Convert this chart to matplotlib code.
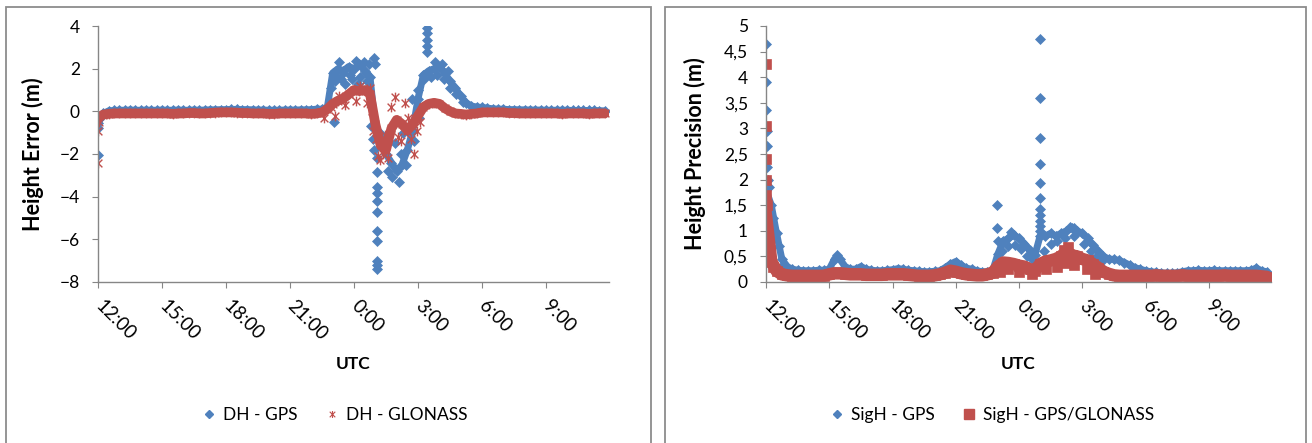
import numpy as np
import matplotlib.pyplot as plt
from matplotlib.path import Path
from matplotlib.patches import Rectangle
from matplotlib.lines import Line2D

plt.rcParams['font.family'] = ['Lato', 'DejaVu Sans']

# time axis: hours after 12:00 UTC, one sample every 15 min
t_base = np.arange(0, 24, 0.25)
tick_hours = [0, 3, 6, 9, 12, 15, 18, 21]
tick_labels = ['12:00', '15:00', '18:00', '21:00', '0:00', '3:00', '6:00', '9:00']

# ---- left chart: height error (m) ----
dh_gps = [
    -0.55, -0.1, 0.02, 0.04, 0.05, 0.05, 0.06, 0.05, 0.05, 0.06, 0.05, 0.05,
    0.06, 0.05, 0.05, 0.06, 0.05, 0.05, 0.06, 0.05, 0.06, 0.07, 0.07, 0.08,
    0.08, 0.09, 0.09, 0.08, 0.08, 0.07, 0.06, 0.06, 0.05, 0.05, 0.05, 0.06,
    0.06, 0.06, 0.07, 0.07, 0.08, 0.1, 0.1, 0.2, 1.8, 2.0, 1.9, 2.1,
    2.0, 2.2, 1.9, 1.6, -0.8, -1.5, -2.0, -2.4, -2.8, -2.5, -1.8, -0.9,
    0.6, 1.7, 1.9, 2.0, 2.1, 1.8, 1.4, 1.1, 0.7, 0.4, 0.25, 0.2,
    0.18, 0.15, 0.12, 0.1, 0.1, 0.08, 0.08, 0.07, 0.07, 0.06, 0.06, 0.06,
    0.05, 0.05, 0.05, 0.05, 0.05, 0.04, 0.04, 0.04, 0.04, 0.04, 0.03, 0.02,
]
dh_gps_extra_t = [
    0, 0.02, 0.05, 10.9, 11.05,
    11.1, 11.3, 11.4, 11.6, 11.8, 12.1, 12.3, 12.45, 12.6, 12.7,
    11.2, 11.5, 11.9, 12.2, 12.55,
    12.95, 12.97, 12.8, 12.9, 12.95,
    13.08, 13.08, 13.08, 13.08, 13.08, 13.08, 13.08, 13.08, 13.08, 13.08, 13.08,
    13.2, 13.4, 13.6, 13.8, 13.9, 14.1, 14.2, 14.3, 14.45, 14.6, 14.7, 14.8, 15.0, 15.05,
    15.4, 15.4, 15.4, 15.4, 15.4,
    15.3, 15.6, 15.9, 16.2, 16.5, 16.8, 17.1, 15.8, 16.1, 16.4,
]
dh_gps_extra_v = [
    -2.05, -0.8, -0.35, 1.1, -0.5,
    1.4, 2.3, 1.5, 1.3, 1.7, 2.35, 1.6, 2.3, 1.4, 2.2,
    1.6, 1.8, 1.5, 1.3, 1.8,
    2.5, 2.2, -0.7, -1.3, -1.8,
    -2.2, -2.85, -3.55, -3.85, -4.2, -4.7, -5.6, -6.1, -7.0, -7.2, -7.4,
    -1.0, -1.3, -2.8, -3.1, -1.5, -3.3, -2.0, -1.0, -2.5, -0.8, 0.6, -1.4, 1.0, -0.3,
    3.9, 3.65, 3.35, 3.05, 2.8,
    1.5, 1.6, 1.7, 1.5, 1.1, 0.8, 0.45, 2.3, 2.2, 1.9,
]

dh_glonass = [
    -0.3, -0.15, -0.12, -0.1, -0.1, -0.1, -0.1, -0.1, -0.1, -0.1, -0.1, -0.1,
    -0.1, -0.1, -0.12, -0.1, -0.1, -0.08, -0.08, -0.1, -0.1, -0.08, -0.06, -0.05,
    -0.05, -0.05, -0.06, -0.08, -0.08, -0.1, -0.1, -0.1, -0.12, -0.12, -0.1, -0.1,
    -0.1, -0.1, -0.1, -0.1, -0.12, -0.1, -0.05, 0.1, 0.35, 0.5, 0.6, 0.8,
    1.0, 0.95, 1.0, 0.8, -0.6, -1.6, -1.8, -0.8, -0.4, -0.6, -0.9, -0.6,
    -0.2, 0.2, 0.35, 0.4, 0.35, 0.15, 0.0, -0.1, -0.12, -0.15, -0.12, -0.1,
    -0.05, -0.05, -0.05, -0.05, -0.05, -0.08, -0.08, -0.1, -0.1, -0.1, -0.1, -0.1,
    -0.1, -0.1, -0.1, -0.12, -0.1, -0.1, -0.1, -0.1, -0.12, -0.1, -0.1, -0.1,
]
dh_glonass_extra_t = [
    0, 0.02, 0.05, 10.6, 10.9, 11.1, 11.3, 11.6, 12.1, 12.3, 12.6, 12.75,
    12.85, 12.9, 13.05, 13.1, 13.2, 13.35, 13.45, 13.6, 13.75, 13.9, 14.05,
    14.2, 14.4, 14.55, 14.65, 14.8, 14.95, 15.1,
]
dh_glonass_extra_v = [
    -2.4, -0.9, -0.5, -0.3, 0.2, -0.2, 0.7, 0.3, 0.5, 1.2, 0.4, 1.1,
    0.0, -0.9, -1.3, -2.1, -2.3, -2.0, -1.1, -2.2, 0.2, 0.65, -1.2,
    -1.4, 0.4, -0.3, -1.3, -2.0, -0.9, -0.5,
]

# ---- right chart: height precision (m) ----
sigh_gps = [
    1.8, 1.5, 0.95, 0.45, 0.3, 0.25, 0.23, 0.22, 0.22, 0.22, 0.23, 0.23,
    0.25, 0.45, 0.45, 0.3, 0.25, 0.25, 0.3, 0.25, 0.23, 0.22, 0.22, 0.23,
    0.24, 0.26, 0.25, 0.23, 0.22, 0.21, 0.2, 0.2, 0.21, 0.22, 0.28, 0.35,
    0.4, 0.33, 0.27, 0.25, 0.22, 0.2, 0.2, 0.22, 0.55, 0.8, 0.85, 0.92,
    0.85, 0.75, 0.62, 0.52, 0.9, 0.9, 0.95, 0.9, 0.95, 1.0, 1.05, 1.0,
    0.95, 0.85, 0.72, 0.6, 0.5, 0.45, 0.44, 0.42, 0.38, 0.33, 0.28, 0.25,
    0.22, 0.2, 0.19, 0.18, 0.17, 0.17, 0.18, 0.2, 0.22, 0.22, 0.23, 0.22,
    0.22, 0.23, 0.22, 0.22, 0.22, 0.22, 0.22, 0.22, 0.23, 0.27, 0.22, 0.2,
]
sigh_gps_extra_t = [
    0, 0, 0.02, 0.03, 0.05, 0.07, 0.1, 0.15, 0.35, 0.6, 0.85, 3.35,
    10.97, 10.97, 10.99,
    13.0, 13.0, 13.0, 13.0, 13.0, 13.0, 13.0, 13.0, 13.0, 13.0, 13.0,
    11.2, 11.5, 11.8, 12.1, 12.4, 12.6, 13.2, 13.5, 13.8, 14.2, 14.6,
    15.1, 15.4, 15.7, 16.0, 11.6, 14.4, 14.6,
]
sigh_gps_extra_v = [
    4.65, 3.9, 3.35, 2.95, 2.65, 2.25, 2.0, 1.85, 1.25, 0.7, 0.35, 0.52,
    1.5, 1.05, 0.8,
    4.75, 3.6, 2.82, 2.3, 1.93, 1.65, 1.42, 1.3, 1.2, 1.1, 1.0,
    0.6, 0.7, 0.72, 0.65, 0.5, 0.45, 0.6, 0.75, 0.8, 0.85, 0.9,
    0.75, 0.6, 0.5, 0.42, 0.98, 1.08, 1.05,
]

sigh_gnss = [
    1.3, 0.4, 0.22, 0.15, 0.13, 0.12, 0.12, 0.12, 0.12, 0.12, 0.12, 0.12,
    0.15, 0.17, 0.17, 0.16, 0.15, 0.15, 0.15, 0.14, 0.14, 0.14, 0.14, 0.15,
    0.15, 0.15, 0.15, 0.14, 0.13, 0.12, 0.12, 0.12, 0.13, 0.15, 0.18, 0.22,
    0.2, 0.17, 0.15, 0.14, 0.13, 0.13, 0.15, 0.18, 0.3, 0.38, 0.37, 0.35,
    0.32, 0.3, 0.25, 0.22, 0.35, 0.4, 0.42, 0.45, 0.5, 0.6, 0.52, 0.5,
    0.45, 0.42, 0.35, 0.28, 0.2, 0.16, 0.13, 0.12, 0.12, 0.12, 0.12, 0.12,
    0.12, 0.12, 0.13, 0.12, 0.12, 0.12, 0.12, 0.13, 0.12, 0.12, 0.12, 0.12,
    0.12, 0.12, 0.12, 0.13, 0.12, 0.12, 0.12, 0.12, 0.12, 0.12, 0.11, 0.1,
]
sigh_gnss_extra_t = [
    0, 0, 0, 0.01, 0.02, 0.03, 0.08, 0.15, 0.35,
    11.1, 11.5, 12.0, 12.6, 13.3, 13.8, 14.2, 14.3, 14.6, 15.2, 15.6, 14.15,
]
sigh_gnss_extra_v = [
    4.25, 3.05, 2.4, 2.0, 1.7, 1.5, 0.9, 0.6, 0.3,
    0.2, 0.25, 0.2, 0.15, 0.25, 0.3, 0.38, 0.68, 0.33, 0.25, 0.15, 0.62,
]

blue = '#4F81BD'
red = '#C0504D'
axis_grey = '#868686'

# asterisk marker like the spreadsheet "star"
star = Path([(-1, -1), (1, 1), (-1, 1), (1, -1), (0, -1.25), (0, 1.25)],
            [Path.MOVETO, Path.LINETO, Path.MOVETO, Path.LINETO, Path.MOVETO, Path.LINETO])

W, H = 1312, 443
fig = plt.figure(figsize=(W / 100, H / 100), dpi=100)

# chart frames
for x0, x1 in [(6, 651), (665, 1306)]:
    fig.patches.append(Rectangle((x0 / W, -0.1), (x1 - x0) / W, 1.1 - 7 / H,
                                 transform=fig.transFigure, fill=False,
                                 edgecolor='#8c8c8c', lw=1.3))

ax1 = fig.add_axes([98 / W, 1 - 282 / H, 511 / W, 256 / H])
ax2 = fig.add_axes([766 / W, 1 - 282 / H, 505 / W, 256 / H])


def style_axis(ax):
    for s in ['top', 'right']:
        ax.spines[s].set_visible(False)
    for s in ['left', 'bottom']:
        ax.spines[s].set_color(axis_grey)
        ax.spines[s].set_linewidth(1.0)
    ax.set_xlim(0, 23.95)
    ax.set_xticks(tick_hours)
    ax.set_xticklabels(tick_labels, rotation=-45, ha='left', va='center',
                       rotation_mode='anchor', fontsize=13.5)
    ax.tick_params(axis='x', length=4, color=axis_grey, pad=11)
    ax.tick_params(axis='y', length=4, color=axis_grey, pad=9, labelsize=12.5)


def band(ax, t, v, color, lw, marker, ms, **kw):
    # the logger writes every few seconds, so the samples merge into a band
    ax.plot(t, v, color=color, lw=lw, solid_capstyle='round', solid_joinstyle='round')
    ax.plot(t, v, ls='none', marker=marker, ms=ms, color=color, **kw)


# left chart
ms_d = 5.5
band(ax1, t_base, dh_gps, blue, 5, 'D', ms_d, mew=0.5)
ax1.plot(dh_gps_extra_t, dh_gps_extra_v, ls='none', marker='D', ms=ms_d, color=blue, mew=0.5)
band(ax1, t_base, dh_glonass, red, 7, star, 7, mew=1.0, mfc='none')
ax1.plot(dh_glonass_extra_t, dh_glonass_extra_v, ls='none', marker=star, ms=7, color=red,
         mew=1.0, mfc='none')
style_axis(ax1)
ax1.set_ylim(-8, 4)
ax1.set_yticks([-8, -6, -4, -2, 0, 2, 4])
ax1.set_ylabel('Height Error (m)', fontsize=15.5, fontweight='bold')
ax1.yaxis.set_label_coords((44 - 98) / 511, 0.5)
fig.text(353 / W, 1 - 364 / H, 'UTC', ha='center', va='center', fontsize=12.5, fontweight='bold')

h1 = [Line2D([], [], ls='none', marker='D', ms=4, color=blue),
      Line2D([], [], ls='none', marker=star, ms=5, color=red, mew=0.8)]
ax1.legend(h1, ['DH - GPS', 'DH - GLONASS'], loc='center', ncol=2, frameon=False,
           bbox_to_anchor=(335 / W, 1 - 415 / H), bbox_transform=fig.transFigure,
           fontsize=12.5, handlelength=0.8, handletextpad=0.4, columnspacing=1.6)

# right chart
band(ax2, t_base, sigh_gps, blue, 5, 'D', ms_d, mew=0.5)
ax2.plot(sigh_gps_extra_t, sigh_gps_extra_v, ls='none', marker='D', ms=ms_d, color=blue, mew=0.5)
band(ax2, t_base, sigh_gnss, red, 9, 's', 7, mew=0.5)
ax2.plot(sigh_gnss_extra_t, sigh_gnss_extra_v, ls='none', marker='s', ms=7, color=red, mew=0.5)
style_axis(ax2)
ax2.set_ylim(0, 5)
y2_ticks = [0, 0.5, 1, 1.5, 2, 2.5, 3, 3.5, 4, 4.5, 5]
ax2.set_yticks(y2_ticks)
ax2.set_yticklabels([f'{v:g}'.replace('.', ',') for v in y2_ticks])
ax2.set_ylabel('Height Precision (m)', fontsize=15.5, fontweight='bold')
ax2.yaxis.set_label_coords((706 - 766) / 505, 0.5)
fig.text(1018 / W, 1 - 364 / H, 'UTC', ha='center', va='center', fontsize=12.5, fontweight='bold')

h2 = [Line2D([], [], ls='none', marker='D', ms=4, color=blue),
      Line2D([], [], ls='none', marker='s', ms=7, color=red)]
ax2.legend(h2, ['SigH - GPS', 'SigH - GPS/GLONASS'], loc='center', ncol=2, frameon=False,
           bbox_to_anchor=(992 / W, 1 - 415 / H), bbox_transform=fig.transFigure,
           fontsize=12.5, handlelength=0.8, handletextpad=0.4, columnspacing=1.6)

fig.savefig('out.png', dpi=100)
